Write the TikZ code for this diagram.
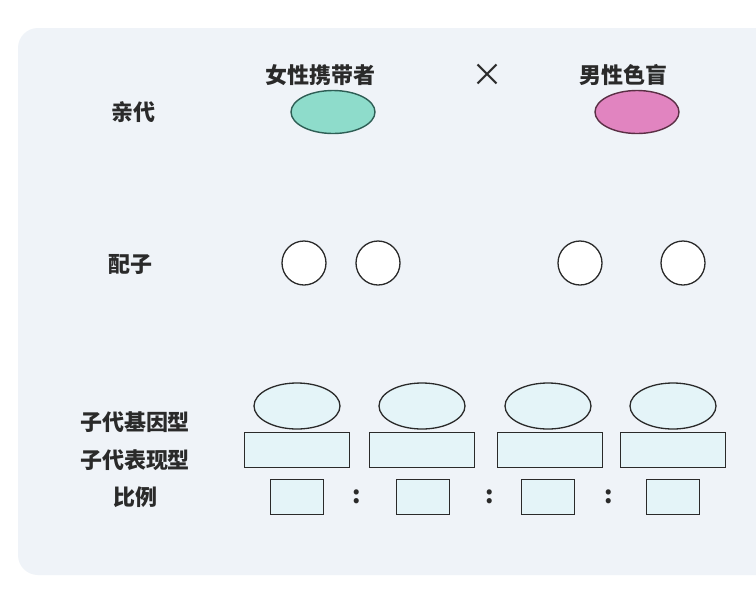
\documentclass[tikz,border=0pt]{standalone}
\usepackage{fontspec}
\setmainfont{Noto Sans CJK SC}
\usetikzlibrary{shapes.geometric}
\definecolor{panel}{HTML}{EFF3F8}
\definecolor{lightfill}{HTML}{E4F4F8}
\definecolor{tealfill}{HTML}{8EDCCB}
\definecolor{tealline}{HTML}{2E5E55}
\definecolor{pinkfill}{HTML}{E184C0}
\definecolor{pinkline}{HTML}{5A2F45}
\definecolor{ink}{HTML}{2A2A2A}
\tikzset{
  lbl/.style={font=\fontsize{22}{24}\selectfont\bfseries, text=ink, inner sep=0pt},
  crosssym/.style={font=\fontsize{32}{34}\selectfont, text=ink, inner sep=0pt},
  parent/.style={ellipse, minimum width=84pt, minimum height=43pt, line width=1.4pt, inner sep=0pt},
  gamete/.style={circle, draw=ink, fill=white, minimum size=44pt, line width=1.3pt, inner sep=0pt},
  geno/.style={ellipse, draw=ink, fill=lightfill, minimum width=86pt, minimum height=46pt, line width=1.3pt, inner sep=0pt},
  pheno/.style={rectangle, draw=ink, fill=lightfill, minimum width=105pt, minimum height=35pt, line width=1.3pt, inner sep=0pt},
  ratio/.style={rectangle, draw=ink, fill=lightfill, minimum width=53pt, minimum height=35pt, line width=1.3pt, inner sep=0pt},
  colon/.style={font=\fontsize{24}{26}\selectfont\bfseries, text=ink, inner sep=0pt}
}
\begin{document}
\begin{tikzpicture}[x=1pt, y=-1pt]
\useasboundingbox (0,0) rectangle (756,590);
\fill[white] (0,0) rectangle (756,590);
\fill[panel, rounded corners=20pt] (18,28) rectangle (780,575);

% parents
\node[lbl] (fl) at (320,75) {女性携带者};
\node[crosssym] (cross) at (487,75) {×};
\node[lbl] (ml) at (623,75) {男性色盲};
\node[lbl] (pg) at (133,112) {亲代};
\node[parent, draw=tealline, fill=tealfill] (pf) at (333,112) {};
\node[parent, draw=pinkline, fill=pinkfill] (pm) at (637,112) {};

% gametes
\node[lbl] (gl) at (130,265) {配子};
\node[gamete] (g1) at (304,263) {};
\node[gamete] (g2) at (378,263) {};
\node[gamete] (g3) at (580,263) {};
\node[gamete] (g4) at (683,263) {};

% offspring labels
\node[lbl] (l1) at (135,422) {子代基因型};
\node[lbl] (l2) at (135,460) {子代表现型};
\node[lbl] (l3) at (135,497) {比例};

% genotype ellipses
\node[geno] (e1) at (297,406) {};
\node[geno] (e2) at (422,406) {};
\node[geno] (e3) at (548,406) {};
\node[geno] (e4) at (673,406) {};

% phenotype rectangles
\node[pheno] (p1) at (297,450) {};
\node[pheno] (p2) at (422,450) {};
\node[pheno] (p3) at (550,450) {};
\node[pheno] (p4) at (673,450) {};

% ratio boxes
\node[ratio] (r1) at (297,497) {};
\node[ratio] (r2) at (423,497) {};
\node[ratio] (r3) at (548,497) {};
\node[ratio] (r4) at (673,497) {};
\node[colon] (c1) at (357,497) {:};
\node[colon] (c2) at (490,497) {:};
\node[colon] (c3) at (609,497) {:};
\end{tikzpicture}
\end{document}
